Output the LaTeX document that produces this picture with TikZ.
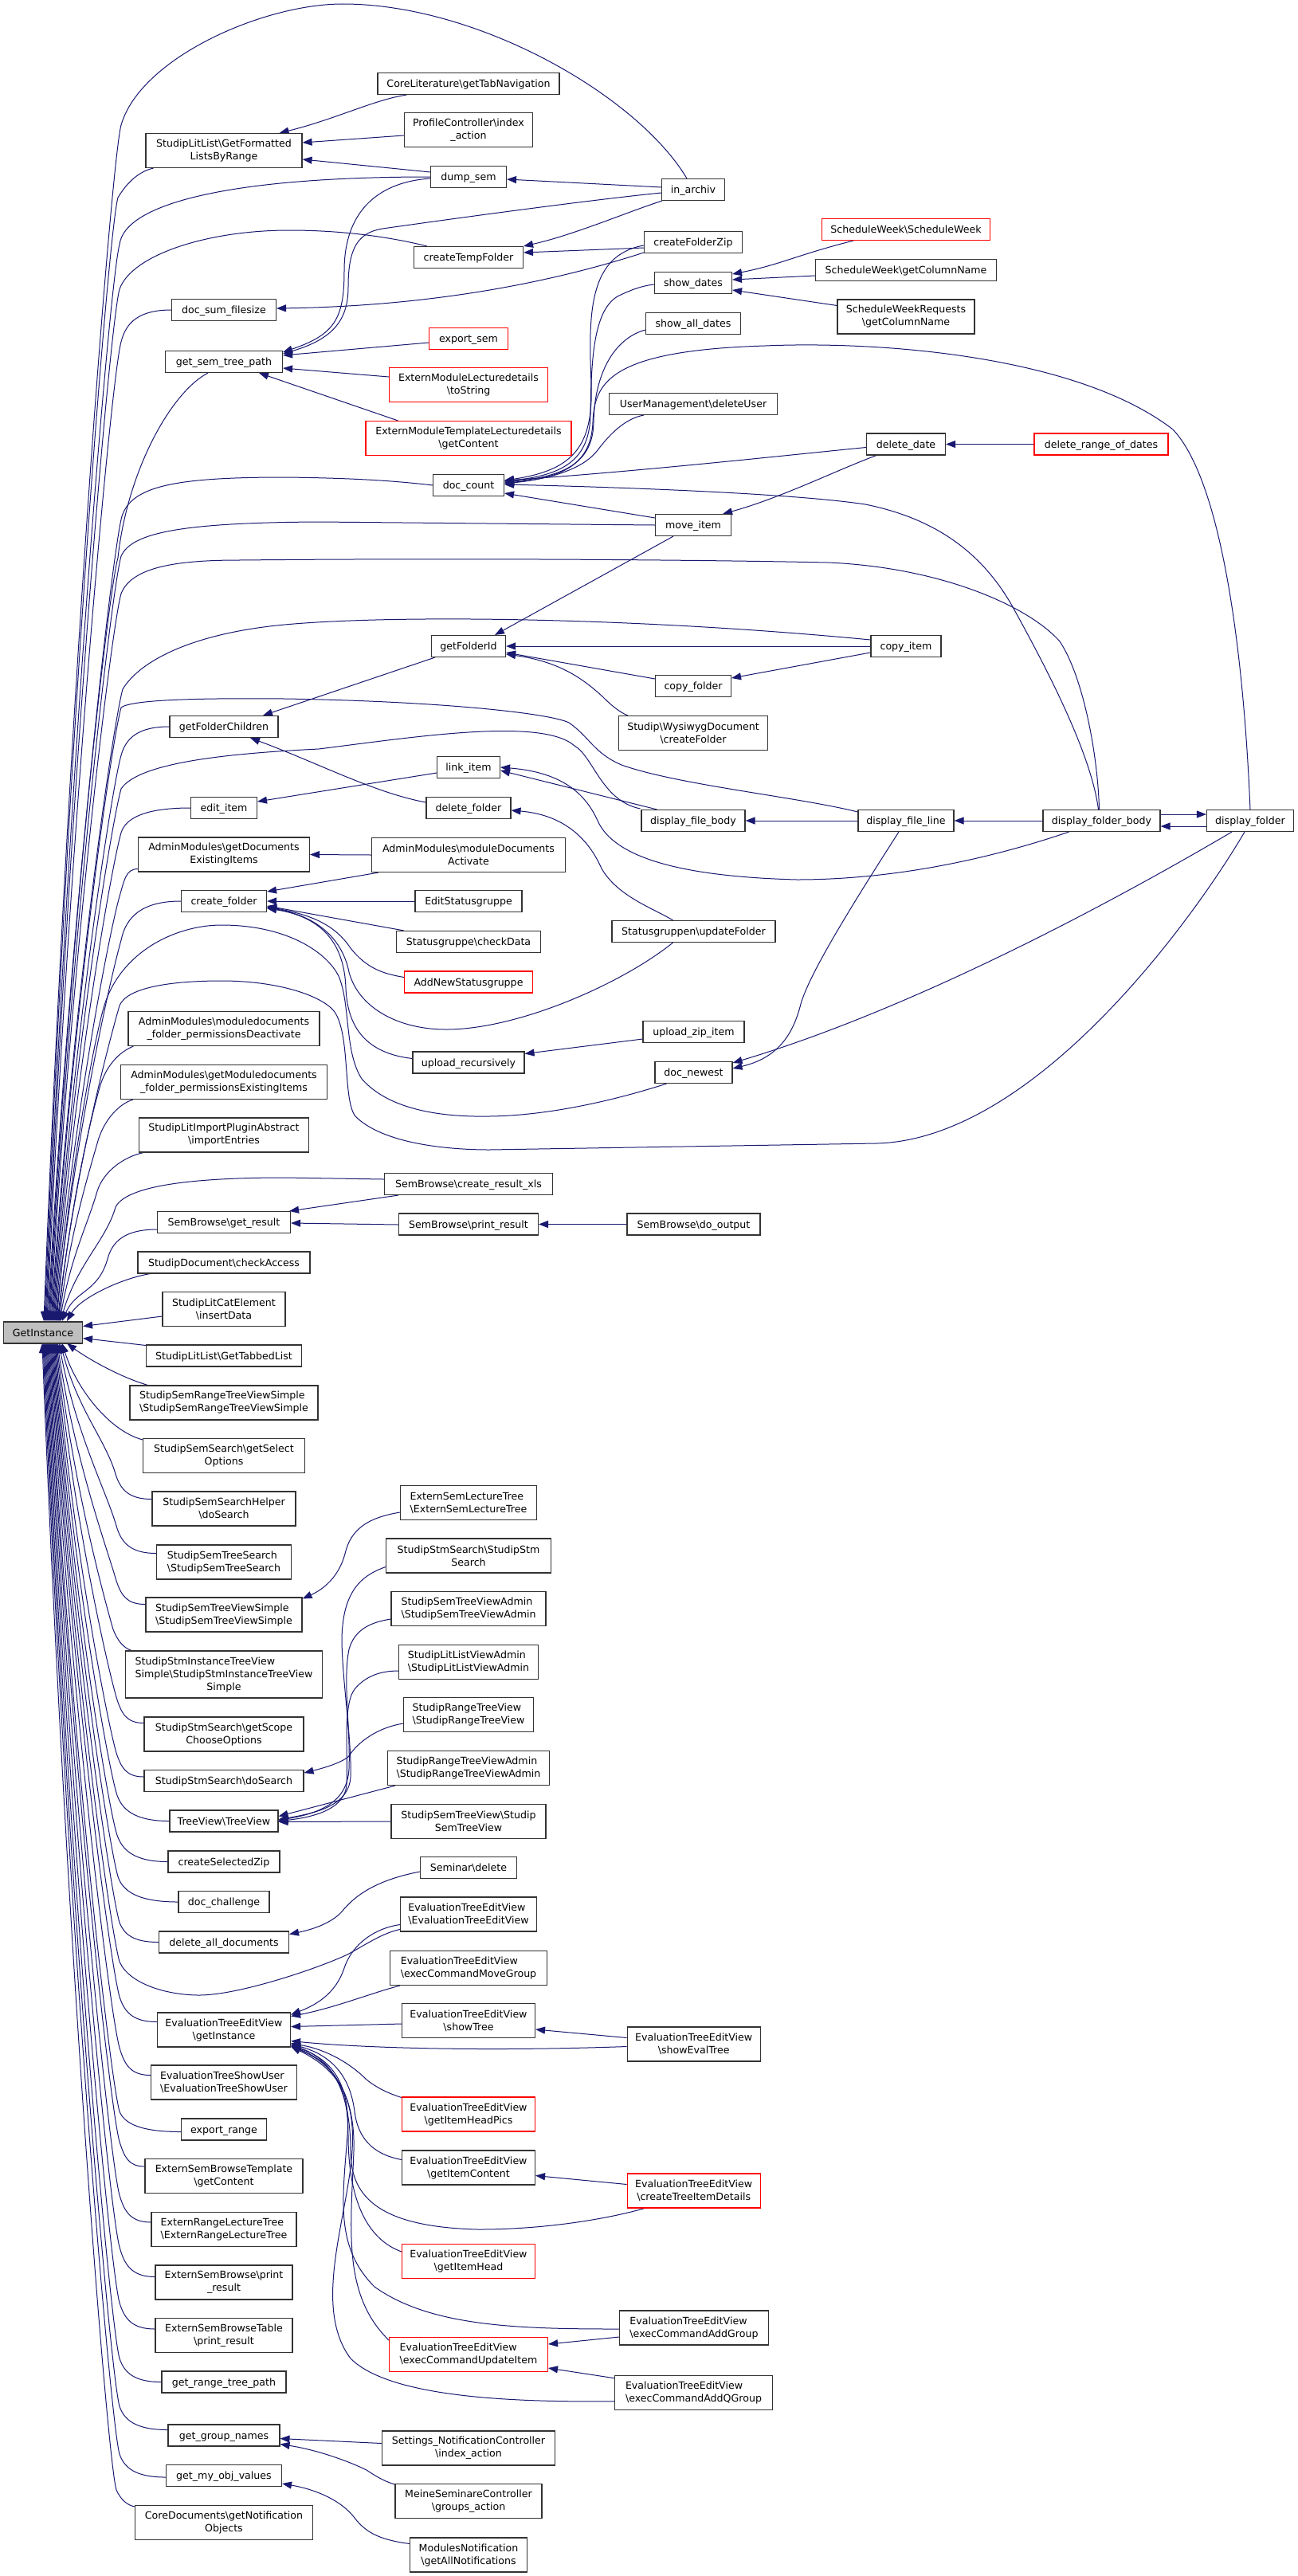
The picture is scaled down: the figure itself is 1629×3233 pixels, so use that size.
\documentclass[tikz,border=0pt]{standalone}
\usepackage{fontspec}
\setmainfont{DejaVu Sans}
\usetikzlibrary{arrows.meta,calc,backgrounds}
\definecolor{cgb}{HTML}{191970}
\newcommand\ndf{\fontsize{12.6pt}{16pt}\selectfont}
\newcommand\BSL{\textbackslash}
\tikzset{
 nd/.style={rectangle, draw=black!80, line width=1.1pt, fill=white, font=\ndf, inner xsep=1pt, inner ysep=0pt, minimum height=27pt, align=center},
 one/.style={text height=10pt, text depth=0.5pt},
 t2/.style={minimum height=43pt},
 t3/.style={minimum height=59pt},
 rd/.style={draw=red},
 lft/.style={align=left},
 cg/.style={draw=cgb, line width=1pt, {Triangle[length=12pt,width=9pt]}-}
}
\newcommand\gup[4]{\draw[cg] let \p1=#4 in (#1,-1658) .. controls ({#1+0.3*(#2-#1)},{-(1658+#3)/2}) and ({#2-12},{-#3-42}) .. (#2,-#3) .. controls ({#2+6},{-#3+0.6*(\y1+#3)}) and ({#2+0.35*(\x1-#2)},\y1) .. (\p1);}
\newcommand\gdn[4]{\draw[cg] let \p1=#4 in (#1,-1686) .. controls ({#1+0.3*(#2-#1)},{-(1686+#3)/2}) and ({#2-12},{-#3+42}) .. (#2,-#3) .. controls ({#2+6},{-#3+0.6*(\y1+#3)}) and ({#2+0.35*(\x1-#2)},\y1) .. (\p1);}
\newcommand\gupt[4]{\draw[cg] (#1,-1658) .. controls ({#1+0.3*(#2-#1)},{-(1658+#3)/2}) and ({#2-12},{-#3-42}) .. (#2,-#3) #4;}
\newcommand\gdnt[4]{\draw[cg] (#1,-1686) .. controls ({#1+0.3*(#2-#1)},{-(1686+#3)/2}) and ({#2-12},{-#3+42}) .. (#2,-#3) #4;}
\begin{document}
\begin{tikzpicture}[x=1pt,y=1pt]
\useasboundingbox (0,0) rectangle (1629,-3233);
% ---------- GetInstance
\node[nd,one,fill=gray!50,minimum width=99pt] (gi) at (54,-1672.5) {GetInstance};
% ---------- column 1
\node[nd,t2,minimum width=196pt] (gfl) at (281,-189) {StudipLitList\BSL GetFormatted\\ListsByRange};
\node[nd,one,minimum width=131pt] (dsf) at (281,-389) {doc\_sum\_filesize};
\node[nd,one,minimum width=147pt] (gstp) at (281,-454) {get\_sem\_tree\_path};
\node[nd,one,minimum width=136pt] (gfc) at (281,-912) {getFolderChildren};
\node[nd,one,minimum width=83pt] (edit) at (281,-1014) {edit\_item};
\node[nd,t2,minimum width=215pt] (gdei) at (281,-1072.5) {AdminModules\BSL getDocuments\\ExistingItems};
\node[nd,one,minimum width=107pt] (cf) at (281,-1131) {create\_folder};
\node[nd,t2,minimum width=240pt] (amdd) at (281,-1291) {AdminModules\BSL moduledocuments\\\_folder\_permissionsDeactivate};
\node[nd,t2,minimum width=259pt] (gmfp) at (281,-1358) {AdminModules\BSL getModuledocuments\\\_folder\_permissionsExistingItems};
\node[nd,t2,minimum width=213pt] (slip) at (281,-1424.5) {StudipLitImportPluginAbstract\\\BSL importEntries};
\node[nd,one,minimum width=167pt] (sbgr) at (281,-1534) {SemBrowse\BSL get\_result};
\node[nd,one,minimum width=216pt] (sdca) at (281,-1584.5) {StudipDocument\BSL checkAccess};
\node[nd,t2,minimum width=154pt] (slce) at (281,-1643) {StudipLitCatElement\\\BSL insertData};
\node[nd,one,minimum width=195pt] (sltl) at (281,-1701.5) {StudipLitList\BSL GetTabbedList};
\node[nd,t2,lft,minimum width=236pt] (ssrt) at (281,-1760.5) {StudipSemRangeTreeViewSimple\\\BSL StudipSemRangeTreeViewSimple};
\node[nd,t2,minimum width=203pt] (sssg) at (281,-1827) {StudipSemSearch\BSL getSelect\\Options};
\node[nd,t2,minimum width=180pt] (ssh) at (281,-1893.5) {StudipSemSearchHelper\\\BSL doSearch};
\node[nd,t2,lft,minimum width=169pt] (sstsr) at (281,-1960.5) {StudipSemTreeSearch\\\BSL StudipSemTreeSearch};
\node[nd,t2,lft,minimum width=196pt] (sstvs) at (281,-2026.5) {StudipSemTreeViewSimple\\\BSL StudipSemTreeViewSimple};
\node[nd,t3,minimum width=247pt] (ssitv) at (281,-2101.5) {\begin{tabular}[b]{@{}l@{}}StudipStmInstanceTreeView\\Simple\BSL StudipStmInstanceTreeView\end{tabular}\\Simple};
\node[nd,t2,minimum width=200pt] (sssc) at (281,-2176.5) {StudipStmSearch\BSL getScope\\ChooseOptions};
\node[nd,one,minimum width=200pt] (sssd) at (281,-2235) {StudipStmSearch\BSL doSearch};
\node[nd,one,minimum width=136pt] (tvtv) at (281,-2285.5) {TreeView\BSL TreeView};
\node[nd,one,minimum width=140pt] (csz) at (281,-2336.5) {createSelectedZip};
\node[nd,one,minimum width=114pt] (dch) at (281,-2387) {doc\_challenge};
\node[nd,one,minimum width=163pt] (dad) at (281,-2437.5) {delete\_all\_documents};
\node[nd,t2,minimum width=167pt] (etgi) at (281,-2547.5) {EvaluationTreeEditView\\\BSL getInstance};
\node[nd,t2,lft,minimum width=183pt] (etsu) at (281,-2613.5) {EvaluationTreeShowUser\\\BSL EvaluationTreeShowUser};
\node[nd,one,minimum width=107pt] (exr) at (281,-2672.5) {export\_range};
\node[nd,t2,minimum width=198pt] (esbt) at (281,-2731) {ExternSemBrowseTemplate\\\BSL getContent};
\node[nd,t2,lft,minimum width=182pt] (erlt) at (281,-2798) {ExternRangeLectureTree\\\BSL ExternRangeLectureTree};
\node[nd,t2,minimum width=172pt] (esbp) at (281,-2864.5) {ExternSemBrowse\BSL print\\\_result};
\node[nd,t2,minimum width=172pt] (esbtp) at (281,-2931) {ExternSemBrowseTable\\\BSL print\_result};
\node[nd,one,minimum width=156pt] (grtp) at (281,-2989.5) {get\_range\_tree\_path};
\node[nd,one,minimum width=140pt] (ggn) at (281,-3056.5) {get\_group\_names};
\node[nd,one,minimum width=145pt] (gmov) at (281,-3107) {get\_my\_obj\_values};
\node[nd,t2,minimum width=223pt] (cdgn) at (281,-3166) {CoreDocuments\BSL getNotification\\Objects};
% ---------- column 2
\node[nd,one,minimum width=228pt] (clt) at (588,-105) {CoreLiterature\BSL getTabNavigation};
\node[nd,t2,minimum width=161pt] (pci) at (588,-163) {ProfileController\BSL index\\\_action};
\node[nd,one,minimum width=95pt] (dsem) at (588,-222) {dump\_sem};
\node[nd,one,minimum width=137pt] (ctf) at (588,-323) {createTempFolder};
\node[nd,one,rd,minimum width=99pt] (exs) at (588,-425) {export\_sem};
\node[nd,t2,rd,minimum width=199pt] (emlt) at (588,-483) {ExternModuleLecturedetails\\\BSL toString};
\node[nd,t2,rd,minimum width=258pt] (emtl) at (588,-550) {ExternModuleTemplateLecturedetails\\\BSL getContent};
\node[nd,one,minimum width=89pt] (dcnt) at (588,-609) {doc\_count};
\node[nd,one,minimum width=93pt] (gfid) at (588,-811) {getFolderId};
\node[nd,one,minimum width=79pt] (link) at (588,-963) {link\_item};
\node[nd,one,minimum width=106pt] (dfold) at (588,-1014) {delete\_folder};
\node[nd,t2,minimum width=243pt] (amda) at (588,-1073) {AdminModules\BSL moduleDocuments\\Activate};
\node[nd,one,minimum width=134pt] (esg) at (588,-1131) {EditStatusgruppe};
\node[nd,one,minimum width=181pt] (sgcd) at (588,-1182) {Statusgruppe\BSL checkData};
\node[nd,one,rd,minimum width=161pt] (ansg) at (588,-1232.5) {AddNewStatusgruppe};
\node[nd,one,minimum width=140pt] (uprec) at (588,-1333.5) {upload\_recursively};
\node[nd,one,minimum width=211pt] (sbcr) at (588,-1486) {SemBrowse\BSL create\_result\_xls};
\node[nd,one,minimum width=175pt] (sbpr) at (588,-1536.5) {SemBrowse\BSL print\_result};
\node[nd,t2,lft,minimum width=171pt] (eslt) at (588,-1886) {ExternSemLectureTree\\\BSL ExternSemLectureTree};
\node[nd,t2,minimum width=207pt] (ssss) at (588,-1952.5) {StudipStmSearch\BSL StudipStm\\Search};
\node[nd,t2,lft,minimum width=194pt] (sstva) at (588,-2019) {StudipSemTreeViewAdmin\\\BSL StudipSemTreeViewAdmin};
\node[nd,t2,lft,minimum width=175pt] (sllva) at (588,-2086) {StudipLitListViewAdmin\\\BSL StudipLitListViewAdmin};
\node[nd,t2,lft,minimum width=163pt] (srtv) at (588,-2152) {StudipRangeTreeView\\\BSL StudipRangeTreeView};
\node[nd,t2,lft,minimum width=203pt] (srtva) at (588,-2219) {StudipRangeTreeViewAdmin\\\BSL StudipRangeTreeViewAdmin};
\node[nd,t2,minimum width=194pt] (sstv) at (588,-2286) {StudipSemTreeView\BSL Studip\\SemTreeView};
\node[nd,one,minimum width=121pt] (semd) at (588,-2344) {Seminar\BSL delete};
\node[nd,t2,lft,minimum width=171pt] (etev) at (588,-2402.5) {EvaluationTreeEditView\\\BSL EvaluationTreeEditView};
\node[nd,t2,lft,minimum width=197pt] (etmg) at (588,-2470) {EvaluationTreeEditView\\\BSL execCommandMoveGroup};
\node[nd,t2,minimum width=167pt] (etst) at (588,-2536) {EvaluationTreeEditView\\\BSL showTree};
\node[nd,t2,rd,minimum width=167pt] (ethp) at (588,-2653.5) {EvaluationTreeEditView\\\BSL getItemHeadPics};
\node[nd,t2,minimum width=167pt] (etic) at (588,-2720.5) {EvaluationTreeEditView\\\BSL getItemContent};
\node[nd,t2,rd,minimum width=167pt] (etih) at (588,-2838) {EvaluationTreeEditView\\\BSL getItemHead};
\node[nd,t2,rd,lft,minimum width=199pt] (etui) at (588,-2955) {EvaluationTreeEditView\\\BSL execCommandUpdateItem};
\node[nd,t2,minimum width=217pt] (sncia) at (588,-3072.5) {Settings\_NotificationController\\\BSL index\_action};
\node[nd,t2,minimum width=184pt] (msga) at (588,-3139) {MeineSeminareController\\\BSL groups\_action};
\node[nd,t2,minimum width=147pt] (mngan) at (588,-3206.5) {ModulesNotification\\\BSL getAllNotifications};
% ---------- column 3
\node[nd,one,minimum width=79pt] (inar) at (870,-238) {in\_archiv};
\node[nd,one,minimum width=123pt] (cfz) at (870,-304) {createFolderZip};
\node[nd,one,minimum width=97pt] (shd) at (870,-355) {show\_dates};
\node[nd,one,minimum width=119pt] (sad) at (870,-406) {show\_all\_dates};
\node[nd,one,minimum width=211pt] (umdu) at (870,-507) {UserManagement\BSL deleteUser};
\node[nd,one,minimum width=95pt] (mvi) at (870,-659) {move\_item};
\node[nd,one,minimum width=95pt] (cpf) at (870,-861) {copy\_folder};
\node[nd,t2,minimum width=187pt] (swcf) at (870,-920) {Studip\BSL WysiwygDocument\\\BSL createFolder};
\node[nd,one,minimum width=130pt] (dfb) at (870,-1030) {display\_file\_body};
\node[nd,one,minimum width=205pt] (sgup) at (870.5,-1169) {Statusgruppen\BSL updateFolder};
\node[nd,one,minimum width=127pt] (uzi) at (870.5,-1295) {upload\_zip\_item};
\node[nd,one,minimum width=97pt] (dnew) at (870.5,-1346) {doc\_newest};
\node[nd,one,minimum width=167pt] (sbdo) at (870.5,-1536.5) {SemBrowse\BSL do\_output};
\node[nd,t2,minimum width=167pt] (etset) at (870.7,-2565.5) {EvaluationTreeEditView\\\BSL showEvalTree};
\node[nd,t2,rd,minimum width=167pt] (etcd) at (870.7,-2749.5) {EvaluationTreeEditView\\\BSL createTreeItemDetails};
\node[nd,t2,lft,minimum width=187pt] (etag) at (871,-2921.5) {EvaluationTreeEditView\\\BSL execCommandAddGroup};
\node[nd,t2,lft,minimum width=198pt] (etaq) at (870.5,-3002.7) {EvaluationTreeEditView\\\BSL execCommandAddQGroup};
% ---------- columns 4-6
\node[nd,one,rd,minimum width=211pt] (swsw) at (1137,-288) {ScheduleWeek\BSL ScheduleWeek};
\node[nd,one,minimum width=227pt] (swgc) at (1137,-339) {ScheduleWeek\BSL getColumnName};
\node[nd,t2,minimum width=172pt] (swrg) at (1137,-397.5) {ScheduleWeekRequests\\\BSL getColumnName};
\node[nd,one,minimum width=99pt] (ddat) at (1137,-557.5) {delete\_date};
\node[nd,one,minimum width=88pt] (cpi) at (1137,-811) {copy\_item};
\node[nd,one,minimum width=120pt] (dfl) at (1137,-1030) {display\_file\_line};
\node[nd,one,rd,minimum width=168pt] (drod) at (1382,-557.5) {delete\_range\_of\_dates};
\node[nd,one,minimum width=147pt] (dfob) at (1382.5,-1030) {display\_folder\_body};
\node[nd,one,minimum width=109pt] (dfo) at (1569,-1030) {display\_folder};

\begin{pgfonlayer}{background}
\fill[white] (0,0) rectangle (1629,-3233);
% ===== edges into GetInstance from above
\gupt{55}{152}{157}{.. controls (176,-73) and (330,-5) .. (430,-5) .. controls (600,-5) and (800,-120) .. ([xshift=-8pt]inar.north)}
\gupt{56}{148}{248}{.. controls (160,-228) and (175,-215) .. ([xshift=10pt]gfl.south west)}
\gup{57}{150}{307}{(dsem.west)}
\gupt{58}{150}{363}{.. controls (165,-320) and (260,-289) .. (363,-289) .. controls (440,-289) and (500,-300) .. ([xshift=17pt]ctf.north west)}
\gup{59}{152}{429}{(dsf.west)}
\gupt{60}{148}{700}{.. controls (160,-590) and (215,-492) .. ([xshift=-20pt]gstp.south)}
\gupt{61}{153}{648}{.. controls (165,-610) and (220,-599) .. (357,-599) .. controls (450,-600) and (500,-604) .. (dcnt.west)}
\gupt{62}{152}{698}{.. controls (165,-668) and (230,-656) .. (400,-655) -- (mvi.west)}
\gupt{63}{152}{745}{.. controls (165,-712) and (220,-703) .. (300,-703) .. controls (600,-700) and (900,-703) .. (1039,-706) .. controls (1180,-712) and (1290,-760) .. (1330,-805) .. controls (1360,-850) and (1378,-950) .. ([xshift=-3pt]dfob.north)}
\gupt{64}{154}{865}{.. controls (175,-830) and (240,-795) .. (357,-784) .. controls (500,-771) and (800,-775) .. ([yshift=8pt]cpi.west)}
\gupt{65}{152}{888}{.. controls (165,-878) and (250,-876) .. (357,-877) .. controls (550,-880) and (690,-895) .. (714,-907) .. controls (740,-925) and (745,-945) .. (780,-960) .. controls (850,-985) and (1000,-1000) .. ([yshift=11pt]dfl.west)}
\gup{66}{152}{948}{(gfc.west)}
\gupt{67}{152}{990}{.. controls (175,-955) and (300,-945) .. (400,-940) .. controls (520,-925) and (680,-900) .. (721,-936) .. controls (745,-950) and (755,-1005) .. ([xshift=-1pt,yshift=1pt]dfb.north west)}
\gup{68}{152}{1045}{(edit.west)}
\gup{69}{150}{1125}{([yshift=4pt]gdei.south west)}
\gup{70}{152}{1180}{(cf.west)}
\gupt{71}{130}{1265}{.. controls (150,-1195) and (220,-1161) .. (278,-1161) .. controls (360,-1161) and (410,-1195) .. (425,-1225) .. controls (440,-1260) and (432,-1320) .. (454,-1354) .. controls (490,-1395) and (560,-1402) .. (614,-1401) .. controls (700,-1400) and (790,-1375) .. ([xshift=15pt]dnew.south west)}
\gupt{72}{150}{1262}{.. controls (160,-1238) and (220,-1231) .. (278,-1231) .. controls (350,-1231) and (405,-1250) .. (420,-1270) .. controls (440,-1300) and (430,-1380) .. (446,-1401) .. controls (480,-1435) and (560,-1443) .. (614,-1443) -- (1100,-1435) .. controls (1300,-1430) and (1500,-1150) .. ([xshift=-7pt]dfo.south)}
\gupt{73}{125}{1365}{.. controls (133,-1337) and (150,-1320) .. ([xshift=7pt]amdd.south west)}
\gupt{74}{122}{1435}{.. controls (130,-1405) and (150,-1385) .. ([xshift=16pt]gmfp.south west)}
\gupt{75}{122}{1495}{.. controls (130,-1470) and (155,-1452) .. ([xshift=6pt]slip.south west)}
\gupt{76}{145}{1515}{.. controls (160,-1485) and (260,-1478) .. (357,-1478) -- ([yshift=6pt]sbcr.west)}
\gup{78}{135}{1580}{([yshift=-9pt]sbgr.west)}
\draw[cg] (84,-1658) .. controls (100,-1630) and (150,-1605) .. ([xshift=16pt]sdca.south west);
\draw[cg] ([yshift=8pt]gi.east) -- ([yshift=-9pt]slce.west);
\draw[cg] ([yshift=-7pt]gi.east) -- ([yshift=13pt]sltl.west);
% ===== edges into GetInstance from below
\draw[cg] (84,-1686) .. controls (110,-1705) and (150,-1728) .. ([xshift=23pt]ssrt.north west);
\draw[cg] (78,-1686) .. controls (95,-1740) and (135,-1795) .. ([yshift=-2pt]sssg.north west);
\gdn{76}{145}{1850}{([yshift=12pt]ssh.west)}
\gdn{74}{146}{1915}{([yshift=11pt]sstsr.west)}
\gdn{72}{146}{1984}{([yshift=13pt]sstvs.west)}
\gdnt{71}{142}{2045}{.. controls (148,-2060) and (155,-2068) .. ([xshift=8pt]ssitv.north west)}
\gdn{70}{146}{2130}{([yshift=14pt]sssc.west)}
\gdn{69}{146}{2200}{([yshift=5pt]sssd.west)}
\gdn{68}{146}{2250}{(tvtv.west)}
\gdn{67}{146}{2300}{(csz.west)}
\gdn{66}{148}{2355}{(dch.west)}
\gdn{65}{150}{2413}{(dad.west)}
\gdnt{64}{150}{2462}{.. controls (162,-2490) and (210,-2504) .. (250,-2504) .. controls (300,-2504) and (400,-2470) .. (436,-2453) .. controls (460,-2440) and (480,-2426) .. ([yshift=-19pt]etev.west)}
\gdn{63}{150}{2506}{([yshift=10pt]etgi.west)}
\gdn{62}{150}{2570}{([yshift=9pt]etsu.west)}
\gdn{61}{150}{2650}{([yshift=-3pt]exr.west)}
\gdn{60}{150}{2688}{([yshift=12pt]esbt.west)}
\gdn{59}{150}{2755}{([yshift=9pt]erlt.west)}
\gdn{58}{150}{2820}{([yshift=7pt]esbp.west)}
\gdn{57}{150}{2890}{([yshift=8pt]esbtp.west)}
\gdn{56}{150}{2960}{(grtp.west)}
\gdn{55}{150}{3020}{([yshift=7pt]ggn.west)}
\gdn{54}{150}{3080}{([yshift=-2pt]gmov.west)}
\gdnt{53}{146}{3125}{.. controls (152,-3138) and (160,-3144) .. ([yshift=-2pt]cdgn.north west)}
% ===== upper graph
\draw[cg] ([xshift=-29pt]gfl.north east) .. controls (420,-150) and (470,-125) .. ([xshift=37pt]clt.south west);
\draw[cg] ([yshift=10pt]gfl.east) -- ([yshift=-7pt]pci.west);
\draw[cg] ([yshift=-11pt]gfl.east) -- ([yshift=6pt]dsem.west);
\draw[cg] ([yshift=-3pt]dsem.east) -- ([yshift=3pt]inar.west);
\draw[cg] (ctf.north east) .. controls (720,-295) and (790,-265) .. ([xshift=1pt]inar.south west);
\draw[cg] ([yshift=6pt]ctf.east) -- ([yshift=-7pt]cfz.west);
\draw[cg] ([yshift=2pt]dsf.east) .. controls (550,-384) and (700,-352) .. ([yshift=-13pt]cfz.west);
\draw[cg] ([yshift=12pt]gstp.east) .. controls (420,-420) and (432,-400) .. (432,-340) .. controls (432,-260) and (480,-228) .. ([yshift=-2pt]dsem.west);
\draw[cg] ([yshift=10pt]gstp.east) .. controls (420,-425) and (437,-400) .. (437,-360) .. controls (437,-310) and (450,-292) .. (480,-287) .. controls (600,-270) and (750,-250) .. ([yshift=-4pt]inar.west);
\draw[cg] ([yshift=8pt]gstp.east) -- ([yshift=-5pt]exs.west);
\draw[cg] ([yshift=-8pt]gstp.east) -- ([yshift=10pt]emlt.west);
\draw[cg] ([xshift=44pt]gstp.south) -- ([xshift=41pt]emtl.north west);
% doc_count callers
\draw[cg] ([yshift=6pt]dcnt.east) .. controls (720,-590) and (745,-560) .. (742,-480) .. controls (738,-390) and (740,-320) .. ([yshift=-4pt]cfz.west);
\draw[cg] ([yshift=5pt]dcnt.east) .. controls (710,-596) and (740,-575) .. (741,-520) .. controls (742,-450) and (745,-390) .. (775,-372) .. controls (795,-362) and (810,-358) .. ([yshift=-2pt]shd.west);
\draw[cg] ([yshift=4pt]dcnt.east) .. controls (710,-598) and (744,-580) .. (745,-530) .. controls (746,-470) and (770,-425) .. ([yshift=-8pt]sad.west);
\draw[cg] ([yshift=3pt]dcnt.east) .. controls (710,-600) and (742,-580) .. (744,-530) .. controls (746,-480) and (765,-440) .. (960,-434) .. controls (1100,-428) and (1350,-445) .. (1472,-539) .. controls (1530,-600) and (1560,-800) .. (dfo.north);
\draw[cg] ([yshift=2pt]dcnt.east) .. controls (700,-600) and (735,-585) .. (750,-565) .. controls (765,-545) and (785,-525) .. ([xshift=44pt]umdu.south west);
\draw[cg] ([yshift=6pt]dcnt.east) .. controls (800,-592) and (1000,-570) .. ([yshift=-4pt]ddat.west);
\draw[cg] ([yshift=1pt]dcnt.east) .. controls (800,-612) and (1000,-620) .. (1086,-633) .. controls (1170,-650) and (1230,-690) .. (1270,-760) .. controls (1320,-850) and (1370,-950) .. ([xshift=-4pt]dfob.north);
\draw[cg] ([yshift=-10pt]dcnt.east) -- ([yshift=9pt]mvi.west);
\draw[cg] ([xshift=-11pt]mvi.north east) .. controls (980,-625) and (1050,-590) .. ([xshift=13pt]ddat.south west);
\draw[cg] (ddat.east) -- (drod.west);
\draw[cg] ([yshift=11pt]shd.east) .. controls (980,-332) and (1000,-320) .. ([xshift=40pt]swsw.south west);
\draw[cg] ([yshift=4pt]shd.east) -- ([yshift=-7pt]swgc.west);
\draw[cg] ([yshift=-9pt]shd.east) -- ([yshift=14pt]swrg.west);
% folder graph
\draw[cg] ([xshift=33pt]gfid.north) -- ([xshift=-25pt]mvi.south);
\draw[cg] (gfid.east) -- (cpi.west);
\draw[cg] ([yshift=-8pt]gfid.east) -- ([yshift=9pt]cpf.west);
\draw[cg] ([yshift=-10pt]gfid.east) .. controls (700,-830) and (730,-850) .. (757,-875) .. controls (770,-888) and (780,-895) .. ([xshift=12pt]swcf.north west);
\draw[cg] ([yshift=10pt]cpf.east) -- ([yshift=-8pt]cpi.west);
\draw[cg] ([xshift=49pt]gfc.north) -- ([xshift=5pt]gfid.south west);
\draw[cg] ([xshift=33pt]gfc.south) .. controls (400,-958) and (470,-995) .. ([yshift=7pt]dfold.west);
\draw[cg] ([yshift=8pt]edit.east) -- ([yshift=-7pt]link.west);
\draw[cg] ([yshift=-4pt]link.east) -- ([xshift=20pt]dfb.north west);
\draw[cg] (link.east) .. controls (690,-968) and (730,-985) .. (750,-1030) .. controls (770,-1075) and (850,-1100) .. (1000,-1104) .. controls (1150,-1104) and (1280,-1065) .. ([xshift=-41pt]dfob.south);
\draw[cg] ([yshift=-3pt]dfold.east) .. controls (700,-1022) and (735,-1045) .. (755,-1090) .. controls (775,-1125) and (820,-1140) .. ([xshift=-26pt]sgup.north);
\draw[cg] (dfb.east) -- (dfl.west);
\draw[cg] (dfl.east) -- (dfob.west);
\draw[cg] ([yshift=8pt]dfo.west) -- ([yshift=8pt]dfob.east);
\draw[cg] ([yshift=-7pt]dfob.east) -- ([yshift=-7pt]dfo.west);
\draw[cg] ([yshift=5pt]dnew.east) .. controls (975,-1328) and (995,-1300) .. (1005,-1260) .. controls (1015,-1225) and (1060,-1150) .. ([xshift=-9pt]dfl.south);
\draw[cg] ([yshift=12pt]dnew.east) .. controls (1150,-1265) and (1400,-1130) .. ([xshift=-23pt]dfo.south);
% create_folder callers
\draw[cg] ([yshift=12pt]cf.east) -- ([xshift=9pt]amda.south west);
\draw[cg] (cf.east) -- (esg.west);
\draw[cg] ([yshift=-6pt]cf.east) -- ([xshift=10pt]sgcd.north west);
\draw[cg] ([yshift=-7pt]cf.east) .. controls (390,-1148) and (420,-1160) .. (440,-1190) .. controls (460,-1215) and (480,-1222) .. ([yshift=6pt]ansg.west);
\draw[cg] ([yshift=-8pt]cf.east) .. controls (400,-1150) and (430,-1180) .. (438,-1220) .. controls (450,-1265) and (500,-1292) .. (560,-1292) .. controls (650,-1292) and (780,-1235) .. ([xshift=-26pt]sgup.south);
\draw[cg] ([yshift=-9pt]cf.east) .. controls (400,-1150) and (432,-1180) .. (434,-1240) .. controls (436,-1290) and (460,-1322) .. ([yshift=5pt]uprec.west);
\draw[cg] ([yshift=11pt]uprec.east) -- ([yshift=-9pt]uzi.west);
\draw[cg] (gdei.east) -- (amda.west);
\draw[cg] ([xshift=-2pt]sbgr.north east) -- ([xshift=18pt]sbcr.south west);
\draw[cg] ([yshift=-1pt]sbgr.east) -- ([yshift=-0.5pt]sbpr.west);
\draw[cg] (sbpr.east) -- (sbdo.west);
% ===== lower graph
\draw[cg] ([yshift=20pt]sstvs.east) .. controls (405,-1995) and (425,-1980) .. (433,-1950) .. controls (440,-1920) and (460,-1905) .. ([yshift=-12pt]eslt.west);
\draw[cg] ([yshift=10pt]sssd.east) .. controls (410,-2218) and (428,-2212) .. (437,-2205) .. controls (450,-2185) and (475,-2168) .. ([yshift=-11pt]srtv.west);
\draw[cg] ([yshift=2pt]tvtv.east) .. controls (400,-2275) and (438,-2265) .. (440,-2230) .. controls (442,-2180) and (425,-2080) .. (430,-2040) .. controls (435,-1990) and (460,-1975) .. ([yshift=-14pt]ssss.west);
\draw[cg] ([yshift=1pt]tvtv.east) .. controls (405,-2275) and (436,-2260) .. (438,-2220) .. controls (440,-2170) and (430,-2110) .. (438,-2070) .. controls (445,-2045) and (465,-2036) .. ([yshift=-13pt]sstva.west);
\draw[cg] (tvtv.east) .. controls (400,-2280) and (433,-2268) .. (435,-2240) .. controls (437,-2200) and (430,-2140) .. (445,-2120) .. controls (460,-2102) and (480,-2097) .. ([yshift=-11pt]sllva.west);
\draw[cg] ([yshift=6pt]tvtv.east) -- ([xshift=10pt]srtva.south west);
\draw[cg] ([yshift=-1pt]tvtv.east) -- (sstv.west);
\draw[cg] ([yshift=10pt]dad.east) .. controls (400,-2420) and (420,-2410) .. (430,-2398) .. controls (445,-2380) and (470,-2360) .. ([yshift=-5pt]semd.west);
\draw[cg] ([yshift=19pt]etgi.east) .. controls (400,-2515) and (422,-2500) .. (432,-2470) .. controls (442,-2440) and (470,-2420) .. ([yshift=-13pt]etev.west);
\draw[cg] ([yshift=17pt]etgi.east) .. controls (420,-2520) and (470,-2500) .. ([xshift=13pt]etmg.south west);
\draw[cg] ([yshift=4pt]etgi.east) -- ([yshift=-4pt]etst.west);
\draw[cg] ([yshift=-14pt]etgi.east) .. controls (450,-2570) and (600,-2575) .. ([yshift=-3pt]etset.west);
\draw[cg] ([yshift=-17pt]etgi.east) .. controls (410,-2572) and (440,-2590) .. (460,-2610) .. controls (475,-2622) and (490,-2628) .. ([yshift=21pt]ethp.west);
\draw[cg] ([yshift=-18pt]etgi.east) .. controls (420,-2580) and (440,-2610) .. (445,-2650) .. controls (450,-2690) and (475,-2705) .. ([yshift=10pt]etic.west);
\draw[cg] ([yshift=-19pt]etgi.east) .. controls (420,-2585) and (440,-2630) .. (440,-2700) .. controls (440,-2760) and (480,-2795) .. (600,-2798) .. controls (700,-2798) and (780,-2780) .. ([xshift=22pt]etcd.south west);
\draw[cg] ([yshift=-20pt]etgi.east) .. controls (420,-2590) and (437,-2620) .. (437,-2680) .. controls (437,-2760) and (460,-2810) .. ([yshift=12pt]etih.west);
\draw[cg] ([yshift=-20pt]etgi.east) .. controls (420,-2585) and (440,-2620) .. (436,-2680) .. controls (430,-2760) and (420,-2820) .. (470,-2870) .. controls (540,-2920) and (650,-2923) .. ([yshift=-1.5pt]etag.west);
\draw[cg] ([yshift=-21pt]etgi.east) .. controls (420,-2590) and (446,-2630) .. (444,-2700) .. controls (440,-2800) and (430,-2880) .. ([yshift=18pt]etui.west);
\draw[cg] ([yshift=-21pt]etgi.east) .. controls (430,-2600) and (450,-2640) .. (440,-2720) .. controls (430,-2800) and (395,-2900) .. (440,-2960) .. controls (490,-3010) and (650,-3015) .. ([yshift=-11pt]etaq.west);
\draw[cg] ([yshift=-11pt]etst.east) -- ([yshift=8pt]etset.west);
\draw[cg] ([yshift=-10pt]etic.east) -- ([yshift=8pt]etcd.west);
\draw[cg] ([yshift=13pt]etui.east) -- ([yshift=-11.5pt]etag.west);
\draw[cg] ([yshift=-17pt]etui.east) -- ([yshift=18pt]etaq.west);
\draw[cg] ([yshift=-4pt]ggn.east) -- ([yshift=6pt]sncia.west);
\draw[cg] ([yshift=-11pt]ggn.east) .. controls (400,-3075) and (440,-3090) .. (460,-3100) .. controls (475,-3110) and (485,-3115) .. ([yshift=21pt]msga.west);
\draw[cg] ([yshift=-10pt]gmov.east) .. controls (400,-3125) and (430,-3140) .. (445,-3160) .. controls (460,-3180) and (480,-3188) .. ([yshift=14pt]mngan.west);
\end{pgfonlayer}
\end{tikzpicture}
\end{document}
